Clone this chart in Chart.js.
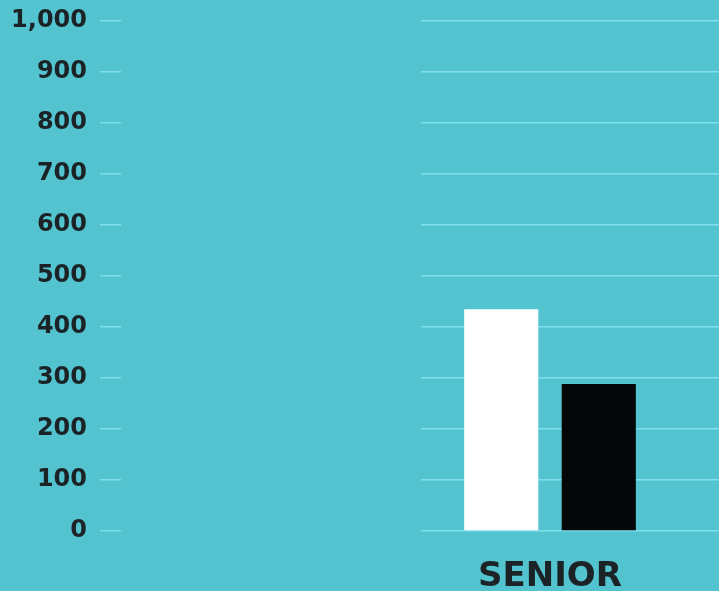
<!DOCTYPE html>
<html>
<head>
<meta charset="utf-8">
<script src="https://cdn.jsdelivr.net/npm/chart.js@4"></script>
<style>
  html, body { margin: 0; padding: 0; background: #53c4cf; overflow: hidden; }
  #wrap { width: 719px; height: 591px; position: relative; }
</style>
</head>
<body>
<div id="wrap"><canvas id="seniorChart"></canvas></div>
<script>
//..data
const categories = ['SENIOR'];
const seriesWhite = [435];
const seriesBlack = [288];
const yMin = 0;
const yMax = 1000;
const yStep = 100;

const gridColor = '#80dfea';
const labelColor = '#1c2326';

//..shared scale range so every axis lines up
const sameRange = { min: yMin, max: yMax, ticks: { stepSize: yStep } };

new Chart(document.getElementById('seniorChart'), {
    type: 'bar',
    data: {
        labels: categories,
        datasets: [{
            label: 'Series 1',
            data: seriesWhite,
            backgroundColor: '#ffffff',
            yAxisID: 'y'
        }, {
            label: 'Series 2',
            data: seriesBlack,
            backgroundColor: '#050607',
            yAxisID: 'y'
        }]
    },
    options: {
        responsive: true,
        maintainAspectRatio: false,
        animation: false,
        categoryPercentage: 0.756,
        barPercentage: 0.76,
        layout: { padding: { top: 21, right: 0, bottom: 0, left: 0 } },
        plugins: {
            legend: { display: false },
            tooltip: { enabled: false }
        },
        scales: {
            x: {
                grid: { display: false },
                border: { display: false },
                ticks: {
                    color: labelColor,
                    padding: 18,
                    font: { family: 'DejaVu Sans', weight: 'bold', size: 34 }
                },
                afterFit: s => { s.height = 60; }
            },
            //..labelled axis, outermost on the left
            y: {
                position: 'left',
                weight: 1,
                min: yMin,
                max: yMax,
                border: { display: false },
                grid: { color: gridColor, lineWidth: 1.5, tickLength: 21, tickColor: gridColor },
                ticks: {
                    stepSize: yStep,
                    padding: 13,
                    color: labelColor,
                    font: { family: 'DejaVu Sans', weight: 'bold', size: 24, lineHeight: 1 }
                },
                afterFit: s => { s.width = 121; s.paddingTop = 0; s.paddingBottom = 0; }
            },
            //..empty gap between the tick marks and the plot
            ySpacer: {
                position: 'left',
                weight: 0,
                ...sameRange,
                border: { display: false },
                grid: { display: false },
                ticks: { display: false, stepSize: yStep },
                afterFit: s => { s.width = 300; }
            },
            //..tick marks on the right carry the grid lines to the edge
            yRight: {
                position: 'right',
                ...sameRange,
                border: { display: false },
                grid: { drawOnChartArea: false, tickLength: 40, tickColor: gridColor, lineWidth: 1.5 },
                ticks: { display: false, stepSize: yStep },
                afterFit: s => { s.width = 40; }
            }
        }
    }
});
</script>
</body>
</html>
